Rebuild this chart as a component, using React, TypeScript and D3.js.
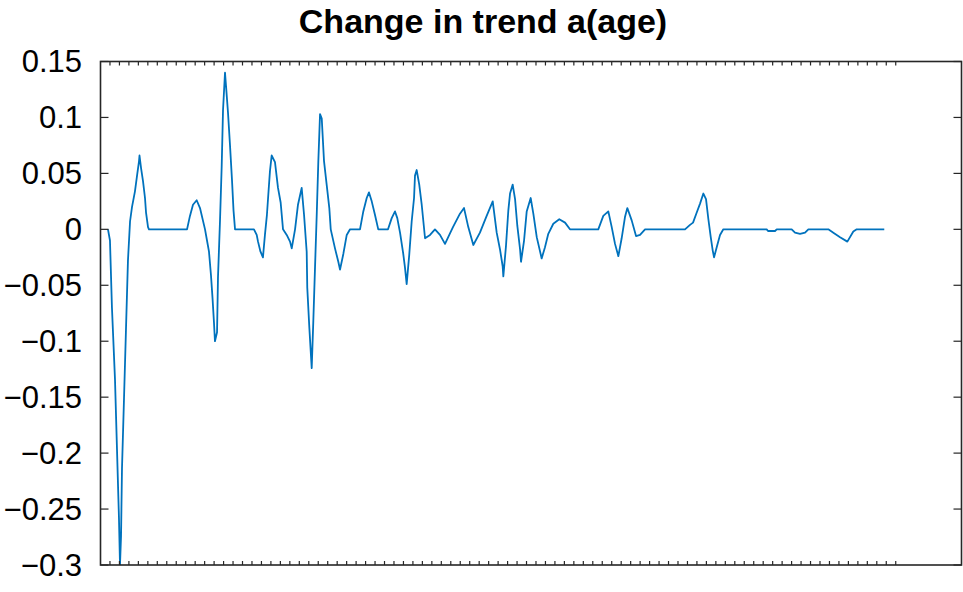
import React from "react";
import * as d3 from "d3";

// x positions (age index) and values of the change in trend a(age)
const ages: number[] = [
  0.79, 1.0, 1.21, 1.53, 1.74, 1.95, 2.06, 2.17, 2.27, 2.48, 2.69, 2.9, 3.12, 3.33, 3.64, 3.86, 4.07, 4.12, 4.28, 4.49, 4.7, 4.81, 5.02, 5.12,
  9.14, 9.45, 9.77, 10.16, 10.51, 11.04, 11.25, 11.46, 11.67, 11.83, 11.99, 12.09, 12.31, 12.41, 12.62, 12.8, 12.94, 13.15, 13.26, 13.47, 13.68, 13.89, 14.05, 14.21,
  16.21, 16.5, 16.64, 16.9, 17.16, 17.37, 17.58, 17.75, 17.9, 18.08, 18.43, 18.75, 19.03, 19.28, 19.67, 20.02, 20.2, 20.55, 20.86, 21.25, 21.5, 21.78, 21.84, 22.06, 22.31, 22.48, 22.66, 22.84, 23.01, 23.19, 23.37, 23.61, 23.89, 24.17, 24.32,
  24.77, 25.12, 25.3, 25.65, 26.01, 26.36, 27.41, 27.76, 28.12, 28.36, 28.65, 28.99, 29.34, 30.37, 30.76, 31.11, 31.35, 31.64, 31.98, 32.16, 32.34, 32.62, 32.87, 33.12, 33.22, 33.4, 33.67, 33.93, 34.28,
  34.81, 35.33, 35.86, 36.39, 37.23, 37.97, 38.4, 38.85, 39.38, 40.08, 40.79, 41.43, 41.85, 42.2, 42.48, 42.55, 42.83, 43.08, 43.26, 43.54, 43.79, 44.03, 44.32, 44.42, 44.74, 45.02, 45.44, 45.72, 46.08,
  46.6, 46.95, 47.3, 47.83, 48.46, 49.07, 49.59, 52.58, 53.11, 53.64, 54.0, 54.35, 54.7, 55.05, 55.4, 55.65, 56.11, 56.57, 56.99, 57.52,
  61.74, 62.27, 62.59, 62.98, 63.33, 63.68, 63.96, 64.21, 64.46, 64.67, 64.81, 65.09, 65.44, 65.79, 70.37, 70.51, 71.25, 71.43, 73.01, 73.36, 73.89, 74.42, 74.77,
  76.88, 77.41, 78.12, 78.89, 79.52, 79.88, 82.79,
];

const trendChange: number[] = [
  0, -0.01, -0.07, -0.134, -0.196, -0.258, -0.3, -0.274, -0.214, -0.152, -0.09, -0.028, 0.007, 0.02, 0.034, 0.048, 0.061, 0.066, 0.055, 0.043, 0.028, 0.015, 0.002, 0,
  0, 0.012, 0.022, 0.026, 0.019, 0, -0.01, -0.02, -0.041, -0.061, -0.084, -0.1, -0.092, -0.043, 0.007, 0.056, 0.106, 0.14, 0.128, 0.104, 0.075, 0.044, 0.017, 0,
  0, -0.005, -0.011, -0.02, -0.025, -0.005, 0.013, 0.034, 0.052, 0.066, 0.06, 0.037, 0.024, 0, -0.005, -0.011, -0.017, 0, 0.022, 0.037, 0.013, -0.02, -0.052, -0.088, -0.124, -0.082, -0.034, 0.013, 0.061, 0.103, 0.099, 0.061, 0.04, 0.019, 0,
  -0.017, -0.029, -0.036, -0.022, -0.005, 0, 0, 0.016, 0.028, 0.033, 0.025, 0.013, 0, 0, 0.01, 0.016, 0.01, -0.003, -0.022, -0.034, -0.049, -0.022, 0.007, 0.028, 0.048, 0.053, 0.04, 0.022, -0.008,
  -0.005, 0, -0.005, -0.013, 0.002, 0.014, 0.019, 0.002, -0.014, -0.003, 0.012, 0.025, -0.003, -0.018, -0.033, -0.042, -0.015, 0.017, 0.032, 0.04, 0.027, 0.003, -0.018, -0.029, -0.01, 0.016, 0.028, 0.014, -0.007,
  -0.026, -0.016, -0.004, 0.005, 0.009, 0.006, 0, 0, 0.012, 0.016, 0.002, -0.013, -0.024, -0.008, 0.011, 0.019, 0.008, -0.006, -0.005, 0,
  0, 0.004, 0.006, 0.015, 0.023, 0.032, 0.027, 0.009, -0.007, -0.019, -0.025, -0.016, -0.005, 0, 0, -0.0015, -0.0015, 0, 0, -0.003, -0.004, -0.003, 0,
  0, -0.003, -0.007, -0.011, -0.002, 0, 0,
];

const yTicks: number[] = [0.15, 0.1, 0.05, 0, -0.05, -0.1, -0.15, -0.2, -0.25, -0.3];
const xTicks: number[] = d3.range(1, 85);
const title = "Change in trend a(age)";

const W = 963;
const H = 592;
const left = 100.5;
const right = 961.5;
const top = 61.5;
const bottom = 565;

export default function App() {
  const x = d3.scaleLinear().domain([0, 91]).range([left, right + 0.5]);
  const y = d3.scaleLinear().domain([-0.3, 0.15]).range([bottom, top]);
  const pts: [number, number][] = ages.map((a, i) => [a, trendChange[i]]);
  const line = d3
    .line<[number, number]>()
    .x((d) => x(d[0]))
    .y((d) => y(d[1]));
  const axisColor = "#262626";
  const fmt = (v: number) => (v < 0 ? "\u2212" + String(Math.abs(v)) : String(v));
  return (
    <svg
      width={W}
      height={H}
      style={{ position: "absolute", left: 0, top: 0, background: "#fff" }}
      fontFamily="'Liberation Sans', Arial, Helvetica, sans-serif"
    >
      <rect x={0} y={0} width={W} height={H} fill="#fff" />
      <defs>
        <clipPath id="plotClip">
          <rect x={left} y={top} width={right - left} height={bottom - top} />
        </clipPath>
      </defs>
      <path d={line(pts) || ""} fill="none" stroke="#0072BD" strokeWidth={1.8} strokeLinejoin="round" clipPath="url(#plotClip)" />
      {/* x ticks bottom & top */}
      {xTicks.map((t) => (
        <g key={"xt" + t}>
          <line x1={x(t)} x2={x(t)} y1={bottom} y2={bottom - 4} stroke={axisColor} strokeWidth={1.2} />
          <line x1={x(t)} x2={x(t)} y1={top} y2={top + 4} stroke={axisColor} strokeWidth={1.2} />
        </g>
      ))}
      {/* y ticks left & right */}
      {yTicks.map((t) => (
        <g key={"yt" + t}>
          <line x1={left} x2={left + 8} y1={y(t)} y2={y(t)} stroke={axisColor} strokeWidth={1.2} />
          <line x1={right} x2={right - 8} y1={y(t)} y2={y(t)} stroke={axisColor} strokeWidth={1.2} />
          <text x={82} y={y(t)} dy="0.35em" textAnchor="end" fontSize={31} fill="#000">
            {fmt(t)}
          </text>
        </g>
      ))}
      <rect x={left} y={top} width={right - left} height={bottom - top} fill="none" stroke={axisColor} strokeWidth={1.6} />
      <text x={483} y={33} textAnchor="middle" fontSize={34} fontWeight="bold" fill="#000">
        {title}
      </text>
    </svg>
  );
}
